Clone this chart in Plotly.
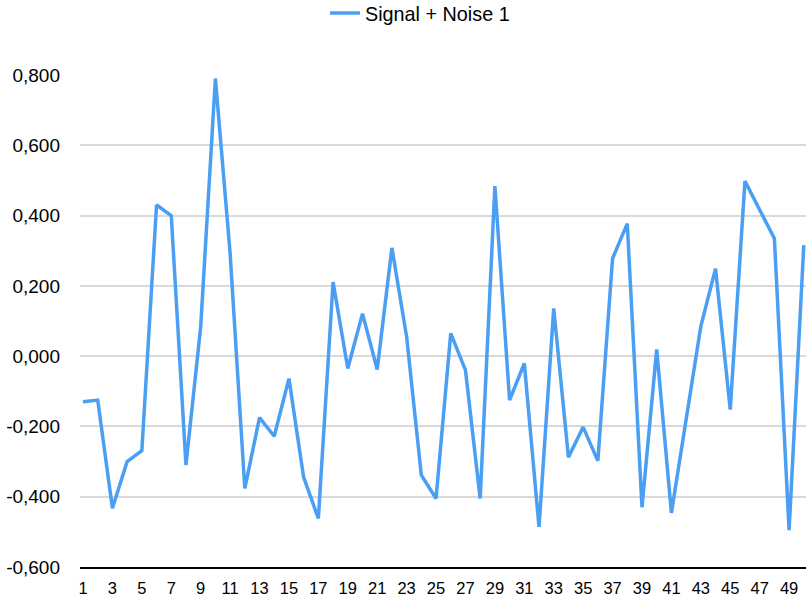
import plotly.graph_objects as go

x_values = list(range(1, 51))
signal_noise_1 = [
    -0.130, -0.125, -0.433, -0.300, -0.269, 0.430, 0.400, -0.310, 0.083, 0.790,
    0.293, -0.376, -0.175, -0.228, -0.064, -0.345, -0.462, 0.211, -0.035, 0.121,
    -0.038, 0.308, 0.055, -0.339, -0.405, 0.065, -0.040, -0.405, 0.484, -0.125,
    -0.021, -0.486, 0.136, -0.288, -0.202, -0.298, 0.278, 0.377, -0.430, 0.019,
    -0.446, -0.180, 0.085, 0.249, -0.152, 0.498, 0.418, 0.335, -0.495, 0.316,
]
y_tick_values = [-0.6, -0.4, -0.2, 0.0, 0.2, 0.4, 0.6, 0.8]
y_tick_labels = ["-0,600", "-0,400", "-0,200", "0,000", "0,200", "0,400", "0,600", "0,800"]
x_tick_values = list(range(1, 50, 2))
x_tick_labels = [str(v) for v in x_tick_values]

fig = go.Figure()
fig.add_trace(go.Scatter(
    x=x_values, y=signal_noise_1, mode="lines", name="Signal + Noise 1",
    line=dict(color="#4A9FF5", width=3.5),
))

fig.update_layout(
    width=806, height=600,
    margin=dict(l=80, r=0, t=75, b=33, autoexpand=False),
    paper_bgcolor="white", plot_bgcolor="white",
    font=dict(family="Liberation Sans, Arial, sans-serif", color="#000000"),
    showlegend=True,
    legend=dict(orientation="h", x=0.3375, xanchor="left", y=1.126, yanchor="middle",
                font=dict(size=19.8), itemwidth=30),
    xaxis=dict(range=[0.796, 50.15], tickvals=x_tick_values, ticktext=x_tick_labels,
               showgrid=False, zeroline=False, showline=True, linecolor="#000000",
               linewidth=2, ticks="", tickfont=dict(size=16.5), ticklabelstandoff=5,
               automargin=False),
    yaxis=dict(range=[-0.6, 0.8], tickvals=y_tick_values, ticktext=y_tick_labels,
               showgrid=True, gridcolor="#d9d9d9", gridwidth=1.6, zeroline=False,
               showline=False, ticks="", tickfont=dict(size=19), ticklabelstandoff=19,
               automargin=False),
)

fig.write_html(
    "out.html",
    config={"displayModeBar": False},
    post_script="document.body.style.margin='0';document.body.style.overflow='hidden';",
)
